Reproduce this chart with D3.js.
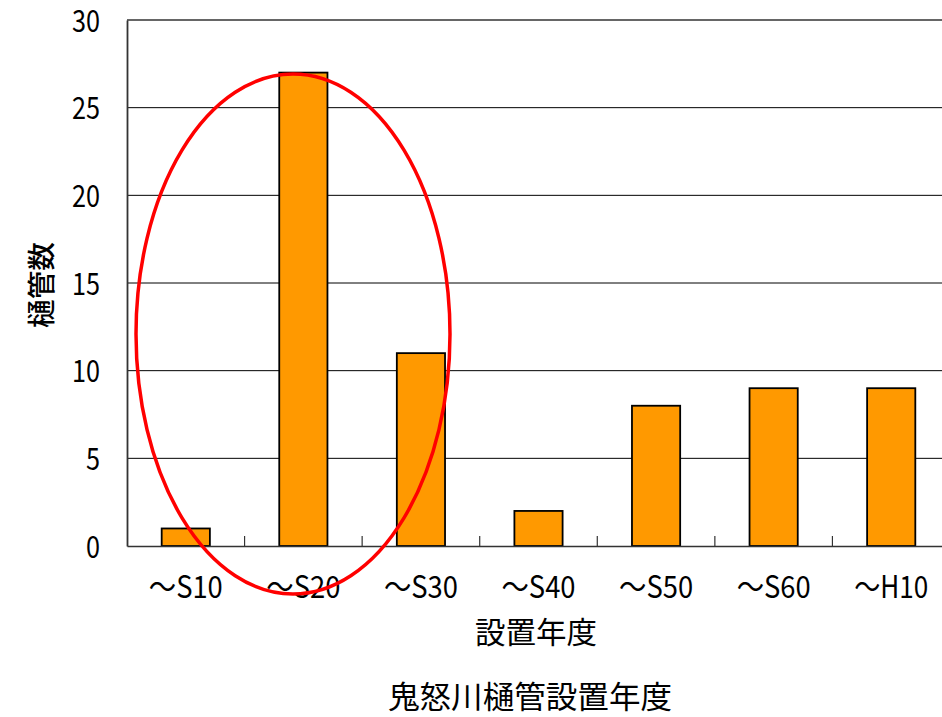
<!DOCTYPE html>
<html>
<head>
<meta charset="utf-8">
<script src="https://cdn.jsdelivr.net/npm/d3@7"></script>
<style>
  body { margin: 0; background: #fff; }
  svg { display: block; font-family: "Noto Sans CJK JP", sans-serif; }
</style>
</head>
<body>
<div id="chart"></div>
<script>
// データ
const categories = ["～S10", "～S20", "～S30", "～S40", "～S50", "～S60", "～H10"];
const counts = [1, 27, 11, 2, 8, 9, 9];
const yTicks = [0, 5, 10, 15, 20, 25, 30];

const width = 942, height = 717;
const margin = { left: 127, top: 20, right: -8, bottom: 171 };
const plotW = width - margin.left - margin.right;
const plotH = height - margin.top - margin.bottom;

const svg = d3.select("#chart").append("svg")
    .attr("width", width)
    .attr("height", height);

const g = svg.append("g")
    .attr("transform", `translate(${margin.left},${margin.top})`);

const x = d3.scaleBand()
    .domain(categories)
    .range([0, plotW])
    .paddingInner(0.59)
    .paddingOuter(0.295);

const xb = d3.scaleBand().domain(categories).range([0, plotW]);

const y = d3.scaleLinear().domain([0, 30]).range([plotH, 0]);

// グリッド線
g.selectAll("line.grid")
    .data(yTicks.filter(d => d > 0))
    .enter().append("line")
    .attr("class", "grid")
    .attr("x1", 0).attr("x2", plotW)
    .attr("y1", d => y(d)).attr("y2", d => y(d))
    .attr("stroke", d => d === 30 ? "#333" : "#000")
    .attr("stroke-width", d => d === 30 ? 1.5 : 1);

// 棒
g.selectAll("rect.bar")
    .data(counts)
    .enter().append("rect")
    .attr("class", "bar")
    .attr("x", (d, i) => x(categories[i]))
    .attr("y", d => y(d))
    .attr("width", x.bandwidth())
    .attr("height", d => plotH - y(d))
    .attr("fill", "#FF9900")
    .attr("stroke", "#000")
    .attr("stroke-width", 1.8);

// Y軸
const yAxis = g.append("g")
    .call(d3.axisLeft(y).tickValues(yTicks).tickSize(0).tickPadding(27));
yAxis.select(".domain").attr("stroke", "#333").attr("stroke-width", 1.8);
yAxis.selectAll("text")
    .attr("font-size", 30)
    .attr("fill", "#000")
    .attr("dy", "0.37em")
    .attr("textLength", d => String(d).length * 14)
    .attr("lengthAdjust", "spacingAndGlyphs")
    .style("font-family", "'Noto Sans CJK JP', sans-serif");

// X軸
const xAxis = g.append("g")
    .attr("transform", `translate(0,${plotH})`)
    .call(d3.axisBottom(xb).tickSize(0).tickPadding(0));
xAxis.select(".domain").attr("stroke", "#333").attr("stroke-width", 1.5);
xAxis.selectAll("text")
    .attr("font-size", 31)
    .attr("fill", "#000")
    .attr("dy", null)
    .attr("y", 52)
    .attr("textLength", 74)
    .attr("lengthAdjust", "spacingAndGlyphs")
    .style("font-family", "'Noto Sans CJK JP', sans-serif");

// 区切り目盛り（内向き）
g.selectAll("line.xtick")
    .data(categories.slice(1))
    .enter().append("line")
    .attr("class", "xtick")
    .attr("x1", d => xb(d)).attr("x2", d => xb(d))
    .attr("y1", plotH).attr("y2", plotH - 10)
    .attr("stroke", "#333").attr("stroke-width", 1.2);

// 軸ラベル
svg.append("text")
    .attr("transform", "translate(52,285) rotate(-90)")
    .attr("text-anchor", "middle")
    .attr("font-size", 28)
    .attr("font-weight", 500)
    .attr("textLength", 86)
    .attr("lengthAdjust", "spacingAndGlyphs")
    .text("樋管数");

svg.append("text")
    .attr("x", 536).attr("y", 643)
    .attr("text-anchor", "middle")
    .attr("font-size", 30)
    .attr("textLength", 122)
    .attr("lengthAdjust", "spacingAndGlyphs")
    .text("設置年度");

svg.append("text")
    .attr("x", 530).attr("y", 708)
    .attr("text-anchor", "middle")
    .attr("font-size", 31)
    .attr("textLength", 284)
    .attr("lengthAdjust", "spacingAndGlyphs")
    .text("鬼怒川樋管設置年度");

// 強調の楕円
svg.append("ellipse")
    .attr("cx", 293).attr("cy", 334)
    .attr("rx", 157).attr("ry", 260)
    .attr("fill", "none")
    .attr("stroke", "#FF0000")
    .attr("stroke-width", 3.5);
</script>
</body>
</html>
